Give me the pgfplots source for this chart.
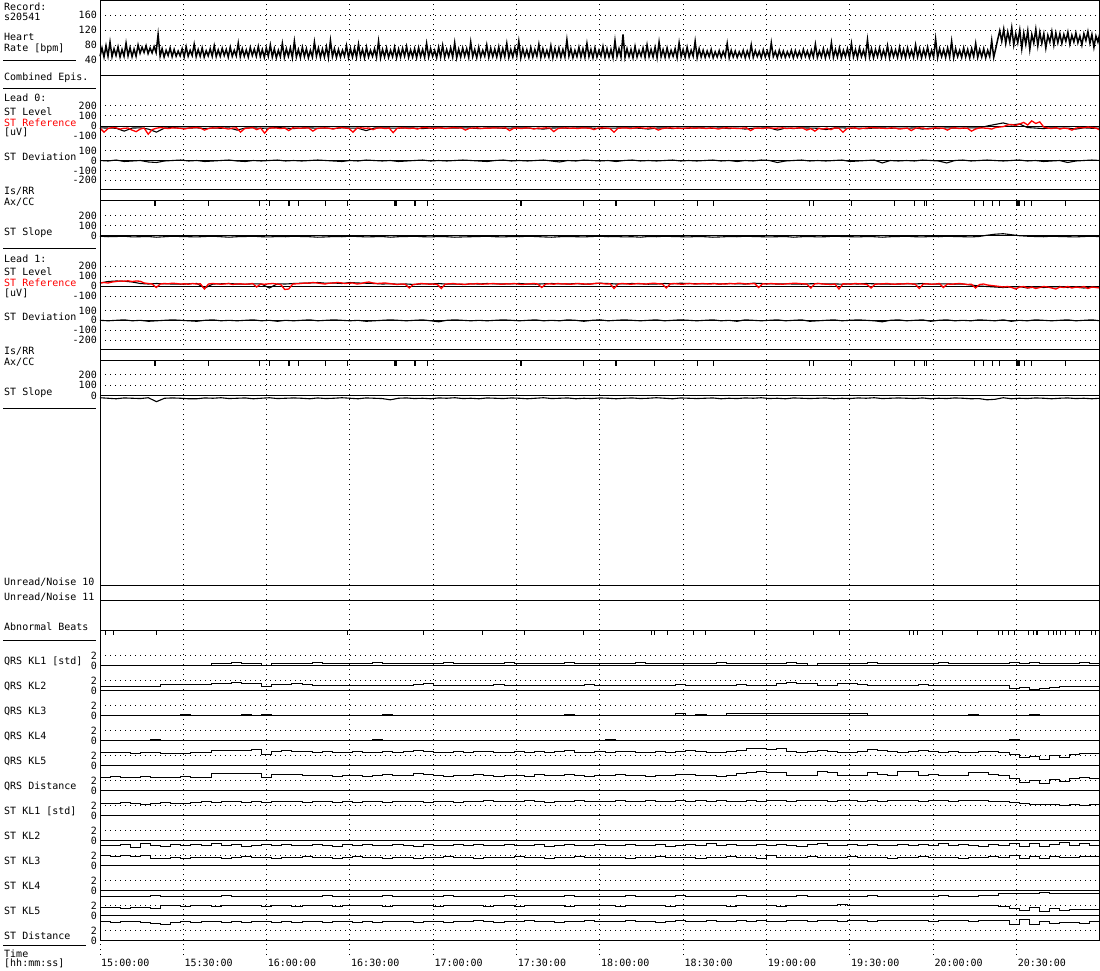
\documentclass[border=0pt]{standalone}
\usepackage{fontspec}
\setmainfont{DejaVu Sans Mono}
\usepackage{pgfplots}
\pgfplotsset{compat=1.18}
\pgfplotsset{
  dotgrid/.style={black, line width=1pt, dash pattern=on 1pt off 4pt},
  panel/.style={scale only axis, width=1000pt, xmin=0, xmax=360, anchor=north west, clip=false,
    axis line style={draw=none}, xtick=\empty, major tick length=0pt, tick style={draw=none},
    ymajorgrids, grid style={dotgrid},
    yticklabel style={anchor=east, inner sep=0pt, xshift=-3pt, font=\normalsize}},
  evt/.style={scale only axis, width=1000pt, xmin=0, xmax=360, ymin=0, ymax=1, anchor=north west,
    clip=false, axis line style={draw=none}, xtick=\empty, ytick=\empty, tick style={draw=none}},
}
\newcommand{\klpanel}[2]{%
\begin{axis}[panel, at={(100pt,-#1pt+22.44pt)}, height=30.6pt, ymin=-1.6, ymax=4.4, ytick={0,2}, yticklabels={0,2}]
\draw[line width=1pt] (axis cs:0,0) -- (axis cs:360,0);
\addplot[black, line width=1pt, const plot, mark=none] table[row sep=\\, header=false, x expr=\coordindex*3.6364, y index=0]{#2};
\end{axis}}
\newcommand{\lab}[2]{\node[anchor=base west, inner sep=0pt] at (4pt,-#1pt) {#2};}
\begin{document}
\begin{tikzpicture}
\useasboundingbox (0,0) rectangle (1100pt,-970pt);
% vertical grid + time labels
\begin{axis}[scale only axis, width=1000pt, height=955pt, at={(100pt,0pt)}, anchor=north west,
  xmin=0, xmax=360, ymin=0, ymax=1, axis line style={draw=none}, tick style={draw=none}, major tick length=0pt,
  ytick=\empty, xtick={0,30,...,330},
  xticklabels={15:00:00,15:30:00,16:00:00,16:30:00,17:00:00,17:30:00,18:00:00,18:30:00,19:00:00,19:30:00,20:00:00,20:30:00},
  xmajorgrids, grid style={dotgrid},
  xticklabel style={anchor=base west, inner sep=0pt, yshift=-11pt, xshift=1pt, font=\normalsize}]
\end{axis}
% Heart rate
\begin{axis}[panel, at={(100pt,0pt)}, height=75pt, ymin=0, ymax=200, ytick={40,80,120,160}, yticklabels={40,80,120,160}]
\addplot[black, line width=1.5pt, mark=none] table[row sep=\\, header=false, x expr=\coordindex*0.7214, y index=0]{
50\\72\\48\\78\\50\\88\\49\\70\\52\\75\\48\\68\\50\\85\\51\\73\\49\\69\\50\\80\\
58\\74\\60\\78\\57\\72\\59\\76\\60\\108\\50\\70\\48\\66\\52\\72\\49\\68\\50\\64\\
51\\70\\48\\75\\50\\66\\52\\82\\49\\68\\50\\72\\48\\65\\51\\70\\50\\78\\49\\67\\
50\\71\\52\\68\\48\\74\\50\\66\\51\\85\\49\\70\\50\\67\\48\\73\\52\\69\\50\\76\\
49\\68\\47\\72\\50\\80\\48\\70\\46\\66\\49\\84\\47\\70\\50\\72\\46\\90\\48\\68\\
47\\74\\49\\70\\46\\66\\48\\88\\50\\72\\47\\69\\48\\75\\46\\92\\49\\70\\47\\68\\
48\\66\\50\\78\\46\\70\\48\\72\\47\\82\\49\\68\\46\\74\\48\\66\\50\\70\\47\\90\\
46\\68\\48\\72\\47\\66\\49\\74\\46\\69\\48\\71\\50\\76\\47\\67\\48\\70\\46\\73\\
49\\68\\47\\84\\48\\70\\50\\66\\46\\74\\48\\79\\47\\68\\49\\72\\48\\86\\46\\69\\
48\\72\\50\\70\\47\\88\\49\\68\\46\\74\\48\\66\\50\\80\\47\\71\\49\\69\\48\\75\\
46\\70\\49\\84\\47\\68\\48\\72\\50\\90\\46\\70\\49\\67\\47\\73\\48\\68\\50\\82\\
47\\70\\49\\66\\48\\78\\46\\70\\49\\72\\47\\68\\48\\94\\50\\70\\46\\66\\49\\74\\
48\\70\\47\\84\\49\\68\\46\\72\\48\\66\\50\\76\\47\\70\\48\\68\\46\\92\\49\\70\\
48\\108\\47\\70\\49\\68\\46\\76\\48\\66\\50\\72\\47\\80\\49\\68\\48\\74\\46\\88\\
49\\68\\47\\72\\48\\66\\50\\70\\46\\86\\49\\68\\47\\74\\48\\66\\50\\90\\46\\70\\
48\\66\\47\\64\\49\\68\\46\\62\\48\\65\\47\\63\\49\\84\\46\\66\\48\\64\\47\\62\\
49\\66\\46\\64\\48\\80\\47\\65\\49\\63\\46\\67\\48\\64\\47\\86\\49\\63\\46\\66\\
48\\64\\47\\62\\49\\66\\46\\65\\48\\63\\47\\68\\49\\64\\46\\66\\48\\82\\47\\64\\
48\\70\\46\\66\\49\\86\\47\\68\\48\\72\\46\\66\\49\\70\\47\\84\\48\\68\\46\\72\\
49\\66\\47\\94\\48\\70\\46\\68\\49\\72\\47\\66\\48\\78\\46\\70\\49\\67\\47\\74\\
48\\68\\46\\72\\49\\66\\47\\80\\48\\70\\46\\68\\49\\74\\47\\66\\48\\96\\46\\70\\
49\\68\\47\\72\\48\\90\\46\\70\\49\\66\\47\\72\\48\\68\\46\\70\\49\\84\\47\\68\\
48\\70\\46\\66\\49\\92\\47\\70\\95\\118\\90\\122\\84\\115\\88\\126\\80\\110\\86\\120\\
70\\112\\82\\118\\68\\108\\85\\122\\78\\114\\84\\110\\72\\106\\88\\116\\80\\112\\86\\110\\
84\\108\\90\\114\\82\\106\\88\\112\\86\\104\\80\\110\\92\\116\\85\\108\\74\\104\\88\\112\\
};
\end{axis}
% Lead 0 ST level / reference
\begin{axis}[panel, at={(100pt,-100.375pt)}, height=41pt, ymin=-150, ymax=250, ytick={-100,0,100,200}, yticklabels={-100,0,100,200}]
\draw[line width=1pt] (axis cs:0,0) -- (axis cs:360,0);
\addplot[black, line width=1.1pt, mark=none] table[row sep=\\, header=false, x expr=\coordindex*2.9032, y index=0]{
-18\\-20\\-22\\-50\\-20\\-18\\-30\\-60\\-20\\-15\\-22\\-20\\-18\\-25\\-20\\-22\\-18\\-40\\-20\\-18\\-22\\-20\\-15\\-20\\-25\\
-20\\-18\\-22\\-20\\-25\\-18\\-20\\-22\\-45\\-20\\-18\\-20\\-22\\-18\\-20\\-25\\-20\\-18\\-22\\-20\\-18\\-20\\-25\\-20\\-18\\
-22\\-20\\-18\\-20\\-25\\-30\\-20\\-18\\-22\\-20\\-18\\-20\\-25\\-22\\-20\\-18\\-20\\-22\\-30\\-20\\-18\\-25\\-20\\-22\\-18\\
-20\\-22\\-18\\-25\\-20\\-30\\-22\\-20\\-18\\-40\\-20\\-25\\-18\\-20\\-22\\-35\\-20\\-18\\-22\\-20\\-25\\-20\\-18\\-22\\-20\\
-22\\-18\\-30\\-20\\-25\\-18\\-20\\-22\\-18\\-20\\0\\15\\30\\10\\20\\-15\\-20\\-25\\-18\\-22\\-20\\-30\\-18\\-22\\-20\\
};
\addplot[red, line width=1.3pt, mark=none] table[row sep=\\, header=false, x expr=\coordindex*1.4458, y index=0]{
-20\\-60\\-25\\-15\\-18\\-30\\-22\\-20\\-40\\-55\\-30\\-20\\-80\\-35\\-22\\-15\\-20\\-25\\-18\\-20\\-22\\-30\\-20\\-18\\-15\\
-20\\-40\\-25\\-18\\-20\\-15\\-22\\-30\\-20\\-18\\-60\\-25\\-20\\-15\\-35\\-20\\-70\\-22\\-18\\-20\\-25\\-20\\-45\\-18\\-20\\
-22\\-18\\-20\\-50\\-25\\-20\\-18\\-22\\-30\\-20\\-15\\-20\\-25\\-60\\-20\\-18\\-22\\-20\\-35\\-20\\-18\\-25\\-20\\-65\\-22\\
-18\\-20\\-25\\-20\\-30\\-18\\-15\\-20\\-22\\-20\\-18\\-25\\-20\\-15\\-20\\-18\\-40\\-22\\-20\\-18\\-25\\-20\\-22\\-18\\-20\\
-20\\-18\\-45\\-22\\-20\\-25\\-18\\-20\\-30\\-20\\-22\\-18\\-20\\-55\\-25\\-20\\-18\\-22\\-20\\-25\\-18\\-20\\-22\\-35\\-20\\
-18\\-20\\-25\\-60\\-22\\-20\\-18\\-25\\-20\\-15\\-20\\-22\\-18\\-20\\-40\\-25\\-20\\-18\\-22\\-20\\-25\\-20\\-18\\-22\\-20\\
-20\\-25\\-18\\-22\\-30\\-20\\-18\\-20\\-22\\-25\\-20\\-18\\-45\\-22\\-20\\-25\\-18\\-20\\-22\\-20\\-18\\-25\\-20\\-22\\-18\\
-20\\-40\\-25\\-50\\-22\\-30\\-20\\-35\\-18\\-22\\-60\\-25\\-20\\-18\\-30\\-22\\-20\\-15\\-18\\-20\\-22\\-25\\-18\\-20\\-30\\
-25\\-20\\-45\\-22\\-18\\-20\\-30\\-25\\-18\\-20\\-22\\-40\\-20\\-18\\-25\\-20\\-22\\-50\\-30\\-18\\-20\\-22\\-30\\-15\\-10\\
-5\\10\\15\\5\\20\\35\\10\\50\\25\\40\\-10\\-20\\-25\\-15\\-30\\-20\\-25\\-40\\-20\\-15\\-18\\-10\\-15\\-20\\-40\\
};
\end{axis}
% Lead 0 ST deviation
\begin{axis}[panel, at={(100pt,-145.7pt)}, height=39.48pt, ymin=-250, ymax=150, ytick={-200,-100,0,100}, yticklabels={-200,-100,0,100}]
\draw[line width=1pt] (axis cs:0,0) -- (axis cs:360,0);
\addplot[black, line width=1.1pt, mark=none] table[row sep=\\, header=false, x expr=\coordindex*2.9032, y index=0]{
0\\-5\\5\\-10\\-5\\0\\-15\\-20\\-5\\0\\5\\-5\\0\\-10\\-5\\0\\5\\-5\\-10\\0\\-5\\0\\5\\-5\\0\\
-5\\0\\5\\0\\-5\\-10\\0\\-5\\5\\0\\-5\\0\\-10\\-5\\0\\5\\-5\\0\\-5\\0\\5\\0\\-5\\-10\\0\\
5\\-5\\0\\-5\\0\\5\\-5\\-15\\0\\-5\\5\\0\\-5\\0\\-10\\0\\5\\-5\\0\\-5\\0\\5\\-5\\0\\-5\\
0\\5\\-5\\0\\-10\\0\\-5\\5\\0\\-20\\-5\\0\\5\\-5\\0\\-5\\0\\5\\-10\\-5\\0\\5\\-25\\0\\-5\\
0\\-5\\5\\0\\-5\\-25\\0\\5\\-5\\0\\5\\0\\-5\\0\\5\\-5\\0\\-10\\-5\\0\\-20\\-5\\0\\5\\0\\
};
\end{axis}
% Lead 0 Ax/CC
\begin{axis}[evt, at={(100pt,-200.3pt)}, height=6pt]
\addplot[black, only marks, mark=|, mark size=3pt, mark options={line width=1pt}] coordinates {
(19.55,0.5) (20.05,0.5) (38.99,0.5) (57.35,0.5) (61.2,0.5) (67.86,0.5) (68.15,0.5) (68.4,0.5) (71.39,0.5)
(81.25,0.5) (89.03,0.5) (106.2,0.5) (106.45,0.5) (106.74,0.5) (113.22,0.5) (113.4,0.5) (113.65,0.5) (117.97,0.5)
(151.56,0.5) (151.81,0.5) (173.99,0.5) (185.58,0.5) (185.76,0.5) (186.01,0.5) (199.55,0.5) (215.17,0.5) (220.79,0.5)
(255.6,0.5) (256.79,0.5) (270.61,0.5) (285.95,0.5) (293.15,0.5) (296.75,0.5) (297.61,0.5) (315,0.5) (317.99,0.5)
(321.37,0.5) (323.75,0.5) (330.12,0.5) (330.37,0.5) (330.66,0.5) (330.95,0.5) (331.2,0.5) (333,0.5) (335.41,0.5) (347.76,0.5)};
\end{axis}
% Lead 0 ST slope
\begin{axis}[panel, at={(100pt,-210.7pt)}, height=35pt, ymin=-100, ymax=250, ytick={0,100,200}, yticklabels={0,100,200}]
\draw[line width=1pt] (axis cs:0,0) -- (axis cs:360,0);
\addplot[black, line width=1.1pt, mark=none] table[row sep=\\, header=false, x expr=\coordindex*2.9032, y index=0]{
-5\\-10\\-8\\-5\\-12\\-10\\-8\\-15\\-10\\-5\\-8\\-10\\-12\\-8\\-5\\-10\\-15\\-10\\-8\\-5\\-10\\-12\\-8\\-10\\-5\\
-8\\-10\\-15\\-12\\-8\\-10\\-5\\-8\\-12\\-10\\-8\\-15\\-10\\-8\\-5\\-10\\-12\\-8\\-10\\-15\\-12\\-10\\-8\\-5\\-10\\
-12\\-8\\-10\\-5\\-8\\-12\\-15\\-10\\-8\\-10\\-12\\-8\\-5\\-10\\-8\\-12\\-10\\-15\\-8\\-10\\-5\\-8\\-10\\-12\\-8\\
-10\\-15\\-12\\-8\\-10\\-5\\-8\\-10\\-12\\-10\\-8\\-15\\-10\\-8\\-12\\-10\\-5\\-8\\-10\\-12\\-8\\-10\\-15\\-10\\-8\\
-5\\-10\\-12\\-8\\-10\\-5\\-8\\-10\\-12\\-8\\5\\15\\20\\10\\0\\-5\\-8\\-10\\-5\\-8\\-10\\-12\\-8\\-5\\-10\\
};
\end{axis}
% Lead 1 ST level / reference
\begin{axis}[panel, at={(100pt,-261pt)}, height=40pt, ymin=-150, ymax=250, ytick={-100,0,100,200}, yticklabels={-100,0,100,200}]
\draw[line width=1pt] (axis cs:0,0) -- (axis cs:360,0);
\addplot[black, line width=1.1pt, mark=none] table[row sep=\\, header=false, x expr=\coordindex*2.9032, y index=0]{
30\\45\\50\\48\\40\\25\\20\\25\\22\\20\\18\\22\\25\\-20\\20\\22\\25\\20\\18\\22\\20\\-20\\22\\20\\25\\
28\\30\\35\\28\\30\\25\\35\\30\\28\\25\\20\\22\\18\\20\\15\\22\\20\\25\\18\\20\\15\\22\\20\\25\\22\\
20\\22\\25\\20\\18\\22\\25\\22\\20\\25\\18\\22\\28\\25\\20\\22\\25\\22\\18\\20\\25\\22\\28\\25\\22\\
22\\25\\20\\25\\22\\20\\28\\25\\22\\20\\22\\20\\18\\22\\25\\20\\22\\18\\22\\20\\25\\22\\20\\18\\20\\
22\\20\\25\\18\\20\\22\\18\\20\\10\\0\\-5\\-10\\-15\\-10\\-5\\-20\\-10\\-15\\-10\\-5\\-15\\-10\\-20\\-10\\-15\\
};
\addplot[red, line width=1.3pt, mark=none] table[row sep=\\, header=false, x expr=\coordindex*1.4458, y index=0]{
30\\35\\30\\40\\45\\50\\48\\52\\45\\50\\48\\30\\25\\20\\-15\\20\\25\\22\\28\\25\\20\\22\\18\\25\\20\\
22\\-30\\20\\25\\22\\18\\20\\25\\15\\20\\22\\18\\20\\25\\-10\\20\\18\\22\\25\\20\\15\\-35\\-30\\20\\22\\
25\\30\\28\\35\\30\\25\\20\\28\\30\\35\\32\\25\\28\\30\\20\\25\\35\\40\\30\\25\\28\\30\\25\\20\\15\\
20\\18\\-20\\15\\20\\25\\22\\18\\20\\15\\-25\\20\\22\\25\\18\\20\\15\\22\\20\\25\\18\\20\\22\\25\\20\\
18\\22\\20\\25\\20\\15\\18\\22\\25\\20\\-15\\20\\22\\18\\25\\20\\22\\18\\20\\25\\22\\20\\18\\25\\28\\
25\\20\\22\\-25\\20\\25\\22\\18\\20\\25\\22\\20\\25\\28\\22\\20\\-20\\22\\25\\20\\18\\22\\25\\20\\22\\
25\\22\\20\\25\\18\\22\\20\\25\\22\\28\\25\\20\\22\\25\\-15\\22\\20\\25\\22\\20\\18\\22\\25\\28\\25\\
22\\20\\-20\\22\\25\\20\\18\\15\\20\\-30\\22\\20\\18\\25\\22\\20\\15\\-20\\18\\20\\22\\25\\20\\18\\22\\
20\\25\\22\\18\\-25\\20\\22\\18\\20\\25\\-15\\20\\18\\22\\25\\20\\15\\18\\-20\\15\\20\\10\\5\\0\\-5\\
-10\\-5\\-15\\-30\\-10\\-5\\-20\\-10\\-25\\-15\\-5\\-10\\-20\\-30\\-10\\-15\\-5\\-20\\-10\\-15\\-5\\-25\\-10\\-15\\-20\\
};
\end{axis}
% Lead 1 ST deviation
\begin{axis}[panel, at={(100pt,-305.5pt)}, height=39.48pt, ymin=-250, ymax=150, ytick={-200,-100,0,100}, yticklabels={-200,-100,0,100}]
\draw[line width=1pt] (axis cs:0,0) -- (axis cs:360,0);
\addplot[black, line width=1.1pt, mark=none] table[row sep=\\, header=false, x expr=\coordindex*2.9032, y index=0]{
0\\-5\\0\\5\\-5\\0\\-10\\-5\\0\\5\\0\\-5\\-10\\0\\5\\-5\\0\\-5\\0\\5\\-5\\0\\-10\\0\\-5\\
0\\5\\-5\\0\\5\\0\\-5\\0\\-10\\-5\\0\\5\\0\\-5\\0\\5\\-5\\-15\\0\\5\\0\\-5\\0\\-5\\0\\
5\\0\\-5\\0\\5\\-5\\0\\-5\\5\\0\\-10\\0\\5\\-5\\0\\5\\0\\-5\\0\\5\\-5\\0\\5\\0\\-5\\
0\\5\\-5\\0\\-10\\5\\0\\-5\\0\\5\\-5\\0\\5\\-10\\-5\\0\\5\\-5\\0\\5\\0\\-5\\-15\\0\\5\\
-5\\0\\5\\-10\\0\\5\\-5\\0\\-5\\5\\0\\-5\\5\\-10\\0\\-5\\5\\0\\-5\\0\\5\\-5\\0\\5\\-5\\
};
\end{axis}
% Lead 1 Ax/CC
\begin{axis}[evt, at={(100pt,-360.3pt)}, height=6pt]
\addplot[black, only marks, mark=|, mark size=3pt, mark options={line width=1pt}] coordinates {
(19.55,0.5) (20.05,0.5) (38.99,0.5) (57.35,0.5) (61.2,0.5) (67.86,0.5) (68.15,0.5) (68.4,0.5) (71.39,0.5)
(81.25,0.5) (89.03,0.5) (106.2,0.5) (106.45,0.5) (106.74,0.5) (113.22,0.5) (113.4,0.5) (113.65,0.5) (117.97,0.5)
(151.56,0.5) (151.81,0.5) (173.99,0.5) (185.58,0.5) (185.76,0.5) (186.01,0.5) (199.55,0.5) (215.17,0.5) (220.79,0.5)
(255.6,0.5) (256.79,0.5) (270.61,0.5) (285.95,0.5) (293.15,0.5) (296.75,0.5) (297.61,0.5) (315,0.5) (317.99,0.5)
(321.37,0.5) (323.75,0.5) (330.12,0.5) (330.37,0.5) (330.66,0.5) (330.95,0.5) (331.2,0.5) (333,0.5) (335.41,0.5) (347.76,0.5)};
\end{axis}
% Lead 1 ST slope
\begin{axis}[panel, at={(100pt,-369.8pt)}, height=36.2pt, ymin=-100, ymax=250, ytick={0,100,200}, yticklabels={0,100,200}]
\draw[line width=1pt] (axis cs:0,0) -- (axis cs:360,0);
\addplot[black, line width=1.1pt, mark=none] table[row sep=\\, header=false, x expr=\coordindex*2.9032, y index=0]{
-20\\-25\\-30\\-22\\-25\\-28\\-20\\-58\\-25\\-22\\-25\\-30\\-30\\-22\\-25\\-20\\-28\\-25\\-22\\-30\\-25\\-20\\-28\\-25\\-22\\
-25\\-30\\-22\\-28\\-25\\-20\\-25\\-30\\-22\\-25\\-28\\-40\\-25\\-22\\-28\\-25\\-30\\-22\\-25\\-20\\-28\\-25\\-30\\-22\\-25\\
-28\\-22\\-25\\-30\\-25\\-20\\-28\\-25\\-22\\-30\\-25\\-28\\-22\\-25\\-30\\-25\\-22\\-28\\-25\\-20\\-25\\-30\\-22\\-25\\-28\\
-25\\-22\\-30\\-25\\-28\\-22\\-25\\-20\\-28\\-25\\-30\\-22\\-25\\-28\\-25\\-22\\-30\\-25\\-28\\-22\\-25\\-20\\-28\\-25\\-22\\
-25\\-28\\-22\\-30\\-25\\-28\\-22\\-25\\-30\\-28\\-40\\-35\\-20\\-30\\-25\\-28\\-22\\-25\\-30\\-25\\-22\\-28\\-25\\-30\\-25\\
};
\end{axis}
% Abnormal beats
\begin{axis}[evt, at={(100pt,-630.7pt)}, height=4pt]
\addplot[black, only marks, mark=|, mark size=2pt, mark options={line width=1pt}] coordinates {
(1.8,0.5) (4.79,0.5) (20.41,0.5) (89.01,0.5) (116.39,0.5) (137.77,0.5) (152.75,0.5) (173.99,0.5) (198.61,0.5) (199.8,0.5)
(204.37,0.5) (213.59,0.5) (218.16,0.5) (235.8,0.5) (256.79,0.5) (266.15,0.5) (291.6,0.5) (292.79,0.5) (294.37,0.5) (303.37,0.5)
(315.97,0.5) (323.39,0.5) (323.64,0.5) (324.97,0.5) (326.99,0.5) (329.15,0.5) (334.19,0.5) (335.99,0.5) (337.21,0.5) (337.43,0.5)
(341.39,0.5) (343.19,0.5) (344.41,0.5) (345.96,0.5) (347.76,0.5) (351.36,0.5) (352.8,0.5) (357.01,0.5) (358.45,0.5)};
\end{axis}
% QRS KL1
\klpanel{665.5}{
0.1\\0.1\\0.1\\0.1\\0.1\\0.1\\0.1\\0.1\\0.1\\0.1\\0.1\\0.45\\0.45\\0.5\\0.45\\0.45\\0.1\\0.45\\0.45\\0.4\\
0.45\\0.5\\0.45\\0.45\\0.4\\0.45\\0.45\\0.5\\0.45\\0.45\\0.4\\0.45\\0.45\\0.45\\0.5\\0.45\\0.4\\0.45\\0.45\\0.45\\
0.5\\0.45\\0.45\\0.4\\0.45\\0.45\\0.5\\0.45\\0.45\\0.45\\0.4\\0.45\\0.45\\0.5\\0.45\\0.45\\0.45\\0.4\\0.45\\0.45\\
0.45\\0.5\\0.45\\0.45\\0.4\\0.45\\0.45\\0.45\\0.5\\0.45\\0.1\\0.45\\0.45\\0.4\\0.45\\0.45\\0.5\\0.45\\0.45\\0.45\\
0.4\\0.45\\0.45\\0.5\\0.45\\0.45\\0.45\\0.4\\0.45\\0.45\\0.6\\0.3\\0.5\\0.45\\0.4\\0.45\\0.45\\0.5\\0.45\\0.45\\}
% QRS KL2
\klpanel{690.5}{
0.75\\0.75\\0.75\\0.75\\0.75\\0.75\\1.1\\1.1\\1.1\\1.1\\1.1\\1.4\\1.4\\1.5\\1.4\\1.4\\0.75\\1.2\\1.2\\1.3\\
1.2\\1.0\\1.0\\0.9\\1.0\\1.0\\0.9\\1.0\\1.0\\0.9\\1.0\\1.2\\1.3\\1.0\\0.9\\1.0\\1.0\\0.9\\1.0\\1.1\\
1.0\\1.0\\0.9\\1.0\\1.0\\0.9\\1.0\\1.0\\1.1\\1.0\\0.9\\1.0\\1.0\\1.0\\0.9\\1.0\\1.0\\1.1\\1.0\\0.9\\
1.0\\1.0\\1.0\\1.1\\1.0\\0.9\\1.0\\1.4\\1.5\\1.4\\1.4\\1.0\\1.0\\1.3\\1.3\\1.2\\1.0\\1.0\\0.9\\1.0\\
1.0\\1.1\\1.0\\1.0\\0.9\\1.0\\1.0\\1.0\\0.9\\0.9\\0.3\\0.5\\0.2\\0.4\\0.6\\0.7\\0.7\\0.8\\0.7\\0.7\\}
% QRS KL3
\klpanel{715.5}{
0\\0\\0\\0\\0\\0\\0\\0\\0.2\\0\\0\\0\\0\\0\\0.15\\0\\0.2\\0\\0\\0\\
0\\0\\0\\0\\0\\0\\0\\0\\0.2\\0\\0\\0\\0\\0\\0\\0\\0\\0.1\\0\\0\\
0\\0\\0\\0\\0\\0\\0.2\\0\\0\\0\\0\\0\\0\\0\\0\\0\\0\\0.3\\0\\0.2\\
0\\0.1\\0.35\\0.35\\0.4\\0.35\\0.35\\0.3\\0.35\\0.4\\0.35\\0.35\\0.3\\0.35\\0.4\\0.35\\0\\0\\0\\0\\
0\\0\\0\\0\\0\\0\\0.2\\0\\0\\0\\0.1\\0\\0.2\\0\\0\\0\\0\\0\\0\\0\\}
% QRS KL4
\klpanel{740.5}{
0.1\\0.1\\0.1\\0.1\\0.1\\0.25\\0.1\\0.1\\0.1\\0.1\\0.1\\0.1\\0.1\\0.1\\0.1\\0.1\\0.1\\0.1\\0.1\\0.1\\
0.1\\0.1\\0.1\\0.1\\0.1\\0.1\\0.1\\0.2\\0.1\\0.1\\0.1\\0.1\\0.1\\0.1\\0.1\\0.1\\0.1\\0.1\\0.1\\0.1\\
0.1\\0.1\\0.1\\0.1\\0.1\\0.1\\0.1\\0.1\\0.1\\0.1\\0.2\\0.1\\0.1\\0.1\\0.1\\0.1\\0.1\\0.1\\0.1\\0.1\\
0.1\\0.1\\0.1\\0.1\\0.1\\0.1\\0.1\\0.1\\0.1\\0.1\\0.1\\0.1\\0.1\\0.1\\0.1\\0.1\\0.1\\0.1\\0.1\\0.1\\
0.1\\0.1\\0.1\\0.1\\0.1\\0.1\\0.1\\0.1\\0.1\\0.1\\0.2\\0.1\\0.1\\0.1\\0.1\\0.1\\0.1\\0.1\\0.1\\0.1\\}
% QRS KL5
\klpanel{765.5}{
2.5\\2.6\\2.5\\2.4\\2.6\\2.5\\2.3\\2.4\\2.3\\2.5\\2.5\\3.0\\3.0\\2.9\\3.0\\3.1\\2.2\\2.8\\2.9\\2.8\\
2.7\\2.6\\2.7\\2.5\\2.6\\2.7\\2.5\\2.6\\2.8\\2.6\\2.7\\3.0\\2.8\\2.6\\2.5\\2.7\\2.6\\2.8\\2.7\\2.5\\
2.6\\2.7\\2.5\\2.8\\2.6\\2.7\\2.9\\2.6\\2.5\\2.7\\2.6\\2.8\\2.7\\2.6\\2.5\\2.7\\2.6\\2.8\\2.9\\2.7\\
2.6\\2.5\\2.7\\3.0\\3.3\\3.4\\3.2\\3.3\\2.7\\2.6\\2.8\\3.0\\2.7\\2.6\\2.5\\2.7\\3.2\\3.0\\2.8\\2.6\\
2.7\\3.0\\2.8\\2.6\\2.7\\2.5\\2.6\\2.8\\2.7\\2.5\\2.2\\1.5\\1.8\\1.2\\2.0\\1.6\\2.2\\2.4\\2.3\\2.5\\}
% QRS Distance
\klpanel{790.5}{
2.6\\2.7\\2.5\\2.6\\2.7\\2.5\\2.6\\2.5\\2.7\\2.6\\2.6\\3.4\\3.4\\3.3\\3.4\\3.4\\2.6\\3.2\\3.2\\3.1\\
3.0\\2.9\\3.0\\2.8\\2.9\\3.0\\2.8\\2.9\\3.1\\2.9\\3.0\\3.3\\3.1\\2.9\\2.8\\3.0\\2.9\\3.1\\3.0\\2.8\\
2.9\\3.0\\2.8\\3.1\\2.9\\3.0\\3.2\\2.9\\2.8\\3.0\\2.9\\3.1\\3.0\\2.9\\2.8\\3.0\\2.9\\3.1\\3.2\\3.0\\
2.9\\2.8\\3.0\\3.3\\3.6\\3.7\\3.5\\3.6\\3.0\\2.9\\3.0\\3.7\\3.6\\3.0\\2.9\\3.0\\3.5\\3.2\\3.0\\3.7\\
3.7\\3.0\\3.1\\2.9\\3.0\\3.0\\3.5\\3.6\\3.1\\3.0\\2.4\\1.6\\2.0\\1.4\\2.2\\1.8\\2.4\\2.5\\2.4\\2.6\\}
% ST KL1
\klpanel{815.5}{
2.4\\2.3\\2.5\\2.4\\2.2\\2.4\\2.5\\2.3\\2.4\\2.5\\2.7\\2.6\\2.8\\2.7\\2.6\\2.7\\2.5\\2.7\\2.8\\2.7\\
2.6\\2.7\\2.8\\2.6\\2.7\\2.5\\2.7\\2.8\\2.6\\2.7\\2.8\\2.7\\2.6\\2.8\\2.7\\2.6\\2.8\\2.7\\2.9\\2.7\\
2.8\\2.7\\2.9\\2.8\\2.6\\2.8\\2.7\\2.9\\2.8\\2.7\\2.8\\2.9\\2.7\\2.8\\2.9\\2.8\\2.7\\2.9\\2.8\\2.9\\
2.8\\2.9\\2.8\\2.7\\2.9\\2.8\\3.0\\2.9\\2.8\\2.9\\3.0\\2.9\\2.8\\2.9\\3.0\\2.8\\2.9\\2.8\\3.0\\2.9\\
2.9\\2.8\\3.0\\2.9\\2.8\\2.9\\3.0\\2.9\\2.8\\2.7\\2.5\\2.3\\2.2\\2.1\\2.2\\2.0\\2.1\\2.0\\2.1\\2.2\\}
% ST KL2
\klpanel{840.5}{
-0.9\\-1.0\\-0.8\\-1.3\\-0.6\\-0.9\\-1.1\\-0.8\\-1.0\\-0.7\\-0.9\\-0.6\\-1.0\\-0.8\\-1.1\\-0.9\\-0.7\\-1.0\\-0.8\\-0.9\\
-1.0\\-0.8\\-0.9\\-1.1\\-0.8\\-1.0\\-0.7\\-0.9\\-1.0\\-0.8\\-0.9\\-1.1\\-0.8\\-0.9\\-1.0\\-0.7\\-0.9\\-0.8\\-1.0\\-0.9\\
-0.8\\-1.0\\-0.9\\-0.7\\-1.1\\-0.9\\-0.8\\-1.0\\-0.9\\-0.8\\-1.0\\-0.9\\-0.7\\-0.9\\-1.0\\-0.8\\-1.1\\-0.9\\-0.8\\-1.0\\
-0.6\\-0.9\\-0.8\\-1.0\\-0.9\\-0.7\\-1.0\\-0.8\\-0.9\\-1.1\\-0.8\\-0.5\\-0.9\\-1.0\\-0.8\\-0.9\\-0.7\\-1.0\\-0.9\\-0.8\\
-1.0\\-0.8\\-0.9\\-0.6\\-1.0\\-0.8\\-0.9\\-1.1\\-0.7\\-0.9\\-0.6\\-1.1\\-0.5\\-1.2\\-0.7\\-0.4\\-0.9\\-0.6\\-1.0\\-0.8\\}
% ST KL3
\klpanel{865.5}{
1.9\\1.8\\1.9\\1.7\\1.9\\1.4\\1.3\\1.5\\1.4\\1.6\\1.5\\1.6\\1.4\\1.6\\1.7\\1.5\\1.6\\1.4\\1.5\\1.6\\
1.7\\1.5\\1.6\\1.4\\1.5\\1.7\\1.6\\1.5\\1.3\\1.5\\1.6\\1.4\\1.5\\1.6\\1.7\\1.5\\1.6\\1.4\\1.5\\1.6\\
1.5\\1.7\\1.6\\1.5\\1.4\\1.6\\1.5\\1.7\\1.6\\1.5\\1.6\\1.5\\1.4\\1.6\\1.5\\1.7\\1.6\\1.5\\1.6\\1.4\\
1.5\\1.6\\1.7\\1.5\\1.6\\1.4\\1.9\\1.6\\1.5\\1.6\\1.7\\1.5\\1.6\\1.5\\1.7\\1.6\\1.5\\1.6\\1.4\\1.6\\
1.5\\1.7\\1.6\\1.5\\1.6\\1.4\\1.5\\1.6\\1.7\\1.5\\1.9\\1.4\\1.8\\1.3\\1.7\\1.5\\1.6\\1.7\\1.8\\2.0\\}
% ST KL4
\klpanel{890.5}{
-1.1\\-1.2\\-1.1\\-1.2\\-1.1\\-1.0\\-1.2\\-1.1\\-1.2\\-1.1\\-1.2\\-1.1\\-1.0\\-1.2\\-1.1\\-1.2\\-1.2\\-1.1\\-1.2\\-1.1\\
-1.1\\-1.2\\-1.0\\-1.1\\-1.2\\-1.1\\-1.2\\-1.1\\-1.0\\-1.1\\-1.2\\-1.1\\-1.1\\-1.2\\-1.0\\-1.1\\-1.2\\-1.1\\-1.2\\-1.1\\
-1.0\\-1.1\\-1.2\\-1.1\\-1.2\\-1.1\\-1.0\\-1.2\\-1.1\\-1.1\\-1.2\\-1.1\\-1.0\\-1.1\\-1.2\\-1.1\\-1.2\\-1.0\\-1.1\\-1.2\\
-1.1\\-1.2\\-1.1\\-1.0\\-1.1\\-1.2\\-1.1\\-1.2\\-1.1\\-1.0\\-1.1\\-1.2\\-1.1\\-1.2\\-1.1\\-1.1\\-1.0\\-1.2\\-1.1\\-1.2\\
-1.1\\-1.2\\-1.1\\-1.0\\-1.1\\-1.2\\-1.1\\-1.0\\-0.9\\-0.6\\-0.5\\-0.6\\-0.5\\-0.4\\-0.6\\-0.5\\-0.5\\-0.6\\-0.5\\-0.7\\}
% ST KL5
\klpanel{915.5}{
1.5\\1.5\\1.4\\1.5\\1.5\\1.3\\1.9\\1.9\\1.8\\1.9\\1.9\\1.8\\1.9\\1.9\\2.0\\1.9\\1.8\\1.9\\1.9\\1.8\\
1.9\\2.0\\1.9\\1.8\\1.9\\1.9\\2.0\\1.9\\1.8\\1.9\\2.0\\1.9\\1.9\\1.8\\1.9\\2.0\\1.9\\1.9\\1.8\\1.9\\
1.9\\1.8\\1.9\\2.0\\1.9\\1.9\\1.8\\1.9\\2.0\\1.9\\1.9\\1.8\\1.9\\1.9\\2.0\\1.9\\1.8\\1.9\\1.9\\2.0\\
1.9\\1.9\\1.8\\1.9\\2.0\\1.9\\1.9\\1.8\\1.9\\2.0\\2.0\\1.9\\2.0\\2.1\\1.9\\2.0\\1.9\\2.0\\2.0\\1.9\\
2.0\\1.9\\2.0\\2.0\\1.9\\2.0\\2.0\\1.9\\2.0\\1.8\\1.4\\0.9\\1.6\\0.8\\1.4\\1.0\\1.2\\1.1\\1.1\\1.2\\}
% ST Distance
\klpanel{940.5}{
3.7\\3.6\\3.8\\3.7\\3.6\\3.4\\3.2\\3.6\\3.7\\3.6\\3.7\\3.8\\3.6\\3.7\\3.5\\3.7\\3.8\\3.6\\3.7\\3.6\\
3.8\\3.7\\3.6\\3.8\\3.7\\3.6\\3.7\\3.5\\3.7\\3.8\\3.7\\3.6\\3.8\\3.7\\3.6\\3.8\\3.7\\3.9\\3.7\\3.6\\
3.8\\3.7\\3.9\\3.8\\3.7\\3.6\\3.8\\3.7\\3.9\\3.8\\3.7\\3.8\\3.9\\3.7\\3.8\\3.6\\3.8\\3.9\\3.7\\3.8\\
3.9\\3.8\\3.7\\3.9\\3.8\\3.9\\3.7\\3.8\\3.9\\4.0\\3.8\\3.9\\4.0\\3.8\\3.9\\4.0\\3.8\\3.9\\4.0\\3.9\\
4.0\\3.9\\3.8\\4.0\\3.9\\4.0\\3.8\\3.9\\4.0\\3.9\\3.2\\4.1\\3.1\\3.8\\3.4\\3.6\\3.5\\3.4\\3.8\\4.0\\}
% frame and separators
\draw[line width=1pt] (100.5pt,-940.5pt) -- (100.5pt,-0.5pt) -- (1099.5pt,-0.5pt) -- (1099.5pt,-940.5pt);
\foreach \yy in {75.6,189.3,200.3,349.3,360.3,585.3,600.3,630.7,940.5}
  \draw[line width=1pt] (100pt,-\yy pt) -- (1100pt,-\yy pt);
\foreach \yy/\xe in {60.7/76,88.3/96,248.3/96,408.7/96,640.7/96,945/86}
  \draw[line width=1pt] (3pt,-\yy pt) -- (\xe pt,-\yy pt);
% left labels
\lab{10}{Record:}
\lab{20.5}{s20541}
\lab{40}{Heart}
\lab{51}{Rate [bpm]}
\lab{80}{Combined Epis.}
\lab{101.7}{Lead 0:}
\lab{115}{ST Level}
\lab{126}{\textcolor{red}{ST Reference}}
\lab{135.4}{[uV]}
\lab{160}{ST Deviation}
\lab{194.3}{Is/RR}
\lab{205.3}{Ax/CC}
\lab{235.7}{ST Slope}
\lab{262.3}{Lead 1:}
\lab{275}{ST Level}
\lab{286.5}{\textcolor{red}{ST Reference}}
\lab{296}{[uV]}
\lab{320.7}{ST Deviation}
\lab{354.3}{Is/RR}
\lab{365.3}{Ax/CC}
\lab{395.7}{ST Slope}
\lab{585.5}{Unread/Noise 10}
\lab{600}{Unread/Noise 11}
\lab{630.7}{Abnormal Beats}
\lab{664.5}{QRS KL1 [std]}
\lab{689.5}{QRS KL2}
\lab{714.5}{QRS KL3}
\lab{739.5}{QRS KL4}
\lab{764.5}{QRS KL5}
\lab{789.5}{QRS Distance}
\lab{814.5}{ST KL1 [std]}
\lab{839.5}{ST KL2}
\lab{864.5}{ST KL3}
\lab{889.5}{ST KL4}
\lab{914.5}{ST KL5}
\lab{939.5}{ST Distance}
\lab{957.3}{Time}
\lab{966}{[hh:mm:ss]}
\end{tikzpicture}
\end{document}
